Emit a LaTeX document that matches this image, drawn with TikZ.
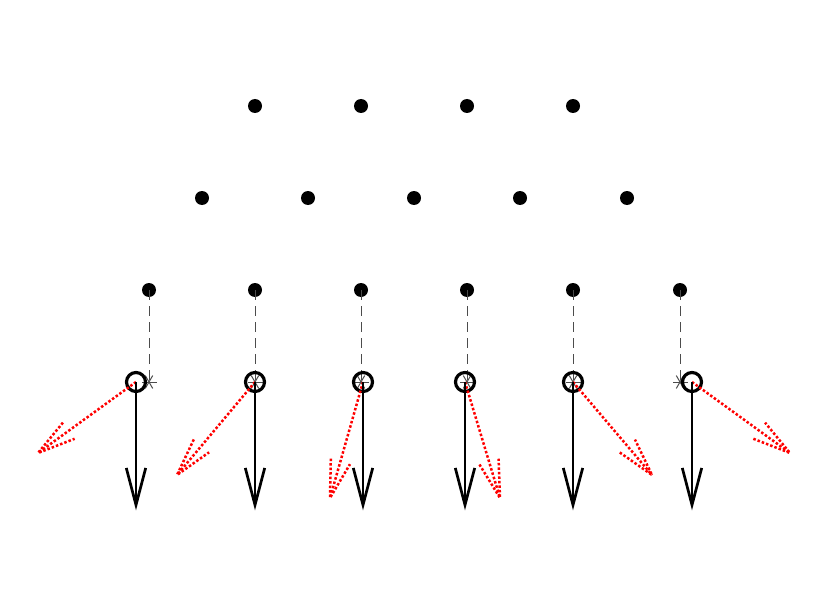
\documentclass[tikz,border=0pt]{standalone}
\usetikzlibrary{calc}
\tikzset{
  dotnode/.style={circle,fill=black,inner sep=0pt,minimum size=14pt},
  ringnode/.style={circle,draw=black,line width=3.2pt,inner sep=0pt,minimum size=19pt},
  guide/.style={draw=black!70,line width=1pt,dash pattern=on 10pt off 6pt},
  astline/.style={draw=black!70,line width=1pt},
  blackvec/.style={draw=black,line width=2.7pt},
  redvec/.style={draw=red,line width=2.5pt,dotted},
}
\begin{document}
\begin{tikzpicture}[x=1pt,y=-1pt]
\useasboundingbox (0,0) rectangle (830,607);
% top rows of dots
\foreach \x [count=\i] in {255,361,467,573} \node[dotnode] (a\i) at (\x,106) {};
\foreach \x [count=\i] in {202,308,414,520,627} \node[dotnode] (b\i) at (\x,198) {};
% bottom row
\foreach \x [count=\i] in {149,255,361,467,573,680} {
  \node[dotnode] (c\i) at (\x,290) {};
  \coordinate (s\i) at (\x,382);
  \draw[guide] (c\i.center) -- (s\i);
  \foreach \ang in {0,60,120} \draw[astline] ($(s\i)+(\ang:7.5)$) -- ($(s\i)+(\ang+180:7.5)$);
}
% rings and vectors
\foreach \cx/\rx/\ry [count=\i] in {136/38/453,255/177/475,363/330/498,465/500/498,573/652/475,692/790/453} {
  \node[ringnode] (r\i) at (\cx,382) {};
  \coordinate (t\i) at (\rx,\ry);
  \coordinate (d\i) at (\cx,505);
  \draw[redvec] (r\i.center) -- (t\i);
  \draw[redvec] ($(t\i)!39.3pt!14.7:(r\i.center)$) -- (t\i) -- ($(t\i)!39.3pt!-14.7:(r\i.center)$);
  \draw[blackvec] (r\i.center) -- (d\i);
  \draw[blackvec,line join=miter] ($(d\i)!38.3pt!14.7:(r\i.center)$) -- (d\i) -- ($(d\i)!38.3pt!-14.7:(r\i.center)$);
}
\end{tikzpicture}
\end{document}
